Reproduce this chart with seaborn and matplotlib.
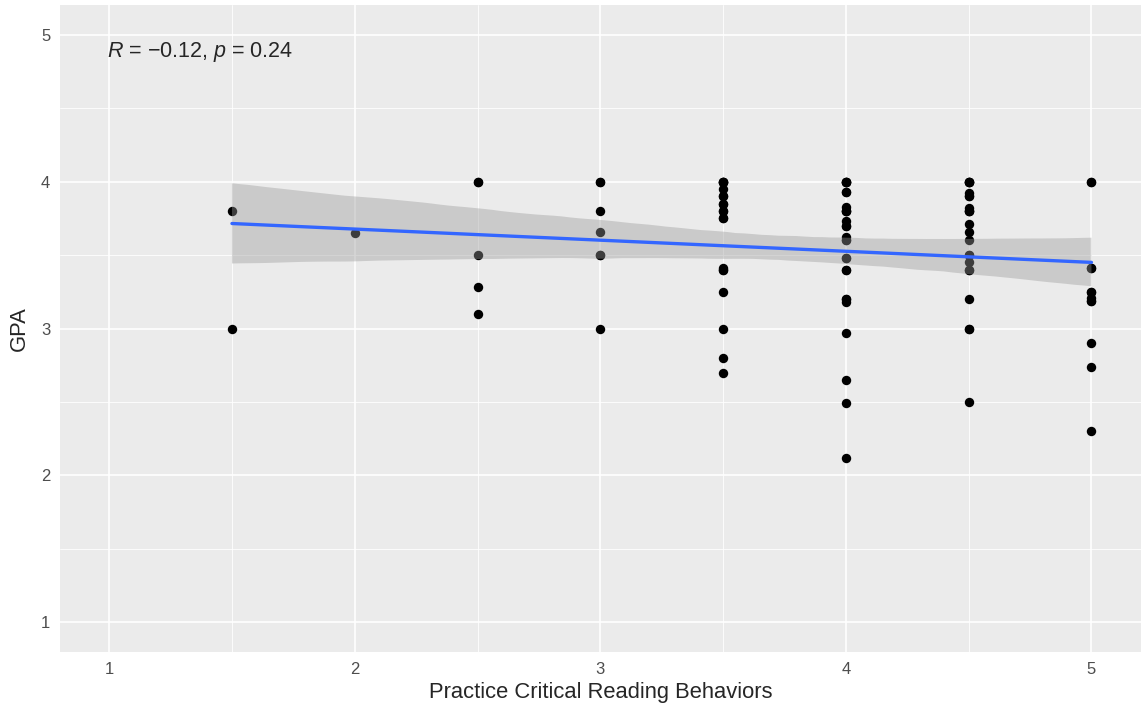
import numpy as np
import pandas as pd
import matplotlib
matplotlib.use("Agg")
import matplotlib.pyplot as plt
import seaborn as sns
from matplotlib.collections import PolyCollection

# values, one list per practice score
# (overlapping points are listed more than once)
gpa_15 = [3.80, 3.00]
gpa_20 = [3.65]
gpa_25 = [4.00, 4.00, 3.50, 3.28, 3.10]
gpa_30 = [4.00, 4.00, 3.80, 3.66, 3.50, 3.50, 3.00]
gpa_35 = [4.00, 4.00, 4.00, 4.00, 3.95, 3.90, 3.90, 3.85, 3.85, 3.80, 3.80,
          3.75, 3.75, 3.41, 3.40, 3.40, 3.25, 3.00, 2.80, 2.70]
gpa_40 = [4.00, 4.00, 4.00, 4.00, 3.93, 3.93, 3.83, 3.80, 3.80, 3.80, 3.73,
          3.70, 3.70, 3.62, 3.60, 3.60, 3.48, 3.48, 3.40, 3.40, 3.20, 3.20,
          3.18, 2.97, 2.65, 2.49, 2.12]
gpa_45 = [4.00, 4.00, 4.00, 4.00, 3.92, 3.90, 3.90, 3.82, 3.80, 3.80, 3.80,
          3.71, 3.66, 3.60, 3.50, 3.50, 3.45, 3.40, 3.40, 3.20, 3.00, 3.00,
          2.50]
gpa_50 = [4.00, 4.00, 3.41, 3.41, 3.25, 3.25, 3.21, 3.19, 3.19, 2.90, 2.74,
          2.30]

levels = [1.5, 2.0, 2.5, 3.0, 3.5, 4.0, 4.5, 5.0]
groups = [gpa_15, gpa_20, gpa_25, gpa_30, gpa_35, gpa_40, gpa_45, gpa_50]

rows = []
for lv, g in zip(levels, groups):
    for v in g:
        rows.append({"practice": lv, "gpa": v})
df = pd.DataFrame(rows)

annot = "$R$ = \u22120.12, $p$ = 0.24"
x_ticks = [1, 2, 3, 4, 5]
y_ticks = [1, 2, 3, 4, 5]

sns.set_style("darkgrid")
plt.rcParams["font.family"] = ["Liberation Sans", "DejaVu Sans"]
plt.rcParams["mathtext.fontset"] = "custom"
plt.rcParams["mathtext.it"] = "Liberation Sans:italic"
plt.rcParams["mathtext.rm"] = "Liberation Sans"

fig = plt.figure(figsize=(11.44, 7.10), dpi=100)
ax = fig.add_axes([0.0525, 0.082, 0.9445, 0.9105])
ax.set_facecolor("#EBEBEB")

sns.regplot(data=df, x="practice", y="gpa", ax=ax, ci=95,
            scatter_kws={"s": 46, "color": "black", "linewidths": 0,
                         "alpha": 1, "zorder": 2},
            line_kws={"color": "#3366FF", "lw": 2.4, "zorder": 4})

# ggplot-like grey band drawn over the points
for c in ax.collections:
    if isinstance(c, PolyCollection):
        c.set_alpha(0.4)
        c.set_facecolor("#999999")
        c.set_edgecolor("none")
        c.set_zorder(3)

ax.set_xlim(0.8, 5.2)
ax.set_ylim(0.8, 5.2)
ax.set_xticks(x_ticks)
ax.set_yticks(y_ticks)
ax.set_xticks([1.5, 2.5, 3.5, 4.5], minor=True)
ax.set_yticks([1.5, 2.5, 3.5, 4.5], minor=True)
ax.grid(which="major", color="white", lw=1.2)
ax.grid(which="minor", color="white", lw=0.6)
ax.set_axisbelow(True)
for s in ax.spines.values():
    s.set_visible(False)
ax.tick_params(which="major", length=4, width=0.9, color="#333333",
               labelsize=12, labelcolor="#4D4D4D", pad=3)
ax.tick_params(which="minor", length=0)

ax.set_xlabel("Practice Critical Reading Behaviors", fontsize=15.8, labelpad=4)
ax.set_ylabel("GPA", fontsize=15.8, labelpad=8)

ax.text(0.99, 4.88, annot, fontsize=15.5, ha="left", va="center")

fig.savefig("out.png", dpi=100)
